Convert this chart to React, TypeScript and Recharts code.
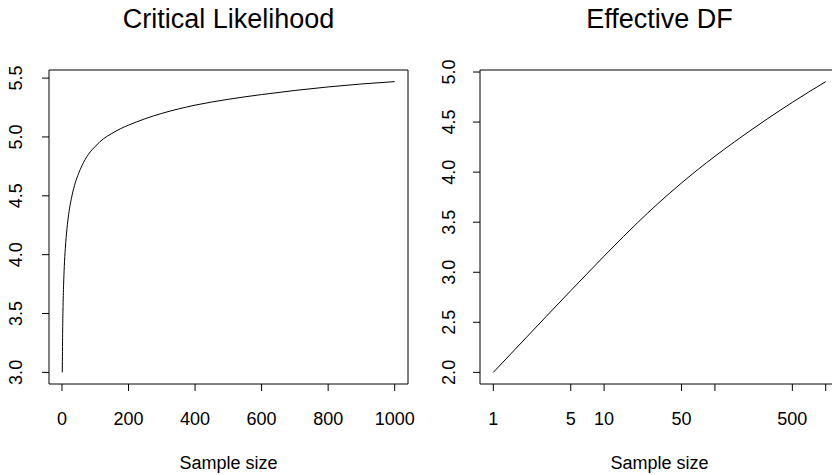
import { LineChart, Line, XAxis, YAxis, ReferenceArea, Label } from 'recharts';

const FONT = '"Liberation Sans", Arial, Helvetica, sans-serif';

// Critical likelihood against sample size (linear x)
const critN = [1, 2, 3, 5, 7, 10, 15, 20, 30, 40, 50, 60, 70, 80, 90, 100, 125, 150, 175, 200, 250, 300, 400, 500, 600, 700, 800, 900, 1000];
const critValues = [3.0, 3.33, 3.52, 3.75, 3.9, 4.05, 4.22, 4.34, 4.5, 4.61, 4.69, 4.755, 4.81, 4.854, 4.89, 4.92, 4.985, 5.03, 5.069, 5.1, 5.155, 5.2, 5.27, 5.32, 5.36, 5.395, 5.425, 5.45, 5.47];
const critXTicks = [0, 200, 400, 600, 800, 1000];
const critYTicks = [3.0, 3.5, 4.0, 4.5, 5.0, 5.5];

// Effective DF against sample size (log x)
const edfN = [1, 2, 3, 5, 7, 10, 15, 20, 30, 50, 70, 100, 150, 200, 300, 500, 700, 1000];
const edfValues = [2.0, 2.352, 2.558, 2.816, 2.984, 3.161, 3.358, 3.494, 3.677, 3.892, 4.025, 4.158, 4.302, 4.401, 4.535, 4.697, 4.799, 4.904];
const edfXTicks = [1, 5, 10, 50, 100, 500, 1000];
const edfXLabels = ['1', '5', '10', '50', '', '500', ''];
const edfYTicks = [2.0, 2.5, 3.0, 3.5, 4.0, 4.5, 5.0];

const critData = critN.map((n, i) => ({ n, v: critValues[i] }));
const edfData = edfN.map((n, i) => ({ n, v: edfValues[i] }));

// R pads axis ranges by 4% on each side
const pad = (lo: number, hi: number): [number, number] => {
  const d = (hi - lo) * 0.04;
  return [lo - d, hi + d];
};
const critX = pad(Math.min(...critN), Math.max(...critN));
const critY = pad(Math.min(...critValues), Math.max(...critValues));
const edfLogX = pad(Math.log10(Math.min(...edfN)), Math.log10(Math.max(...edfN)));
const edfX: [number, number] = [Math.pow(10, edfLogX[0]), Math.pow(10, edfLogX[1])];
const edfY = pad(Math.min(...edfValues), Math.max(...edfValues));

const txt = { fontFamily: FONT, fill: '#000' };

const yTick = (labelX: number) => (props: any) => {
  const { y, payload } = props;
  return (
    <text x={labelX} y={y} transform={`rotate(-90 ${labelX} ${y})`} textAnchor="middle" fontSize={18} {...txt}>
      {Number(payload.value).toFixed(1)}
    </text>
  );
};

const xTick = (labels?: string[]) => (props: any) => {
  const { x, payload, index } = props;
  const s = labels ? labels[index] : String(payload.value);
  return (
    <text x={x} y={425} textAnchor="middle" fontSize={18} {...txt}>
      {s}
    </text>
  );
};

const titleLabel = (title: string) => (props: any) => {
  const vb = props.viewBox;
  return (
    <text x={vb.x + vb.width / 2} y={28} textAnchor="middle" fontSize={27} {...txt}>
      {title}
    </text>
  );
};

const xAxisLabel = (props: any) => {
  const vb = props.viewBox;
  return (
    <text x={vb.x + vb.width / 2} y={469} textAnchor="middle" fontSize={18} {...txt}>
      Sample size
    </text>
  );
};

export default function App() {
  return (
    <div style={{ position: 'absolute', left: 0, top: 0, width: 832, height: 475, overflow: 'hidden', background: '#fff' }}>
      <div style={{ position: 'absolute', left: 0, top: 0 }}>
        <LineChart width={420} height={475} data={critData} margin={{ top: 70, right: 12, bottom: 0, left: 0 }}>
          <XAxis
            dataKey="n"
            type="number"
            domain={critX}
            ticks={critXTicks}
            interval={0}
            allowDataOverflow
            height={91}
            axisLine={false}
            tickSize={7}
            tickLine={{ stroke: '#000' }}
            tick={xTick()}
          >
            <Label content={xAxisLabel} />
          </XAxis>
          <YAxis
            type="number"
            domain={critY}
            ticks={critYTicks}
            interval={0}
            allowDataOverflow
            width={49}
            axisLine={false}
            tickSize={7}
            tickLine={{ stroke: '#000' }}
            tick={yTick(22)}
          />
          <ReferenceArea x1={critX[0]} x2={critX[1]} y1={critY[0]} y2={critY[1]} fill="none" stroke="#000" strokeWidth={1} ifOverflow="visible">
            <Label content={titleLabel('Critical Likelihood')} />
          </ReferenceArea>
          <Line type="monotone" dataKey="v" stroke="#000" strokeWidth={1} dot={false} isAnimationActive={false} />
        </LineChart>
      </div>
      <div style={{ position: 'absolute', left: 415, top: 0 }}>
        <LineChart width={435} height={475} data={edfData} margin={{ top: 70, right: 11, bottom: 0, left: 0 }}>
          <XAxis
            dataKey="n"
            type="number"
            scale="log"
            domain={edfX}
            ticks={edfXTicks}
            interval={0}
            allowDataOverflow
            height={91}
            axisLine={false}
            tickSize={7}
            tickLine={{ stroke: '#000' }}
            tick={xTick(edfXLabels)}
          >
            <Label content={xAxisLabel} />
          </XAxis>
          <YAxis
            type="number"
            domain={edfY}
            ticks={edfYTicks}
            interval={0}
            allowDataOverflow
            width={65}
            axisLine={false}
            tickSize={7}
            tickLine={{ stroke: '#000' }}
            tick={yTick(40)}
          />
          <ReferenceArea x1={edfX[0]} x2={edfX[1]} y1={edfY[0]} y2={edfY[1]} fill="none" stroke="#000" strokeWidth={1} ifOverflow="visible">
            <Label content={titleLabel('Effective DF')} />
          </ReferenceArea>
          <Line type="monotone" dataKey="v" stroke="#000" strokeWidth={1} dot={false} isAnimationActive={false} />
        </LineChart>
      </div>
    </div>
  );
}
